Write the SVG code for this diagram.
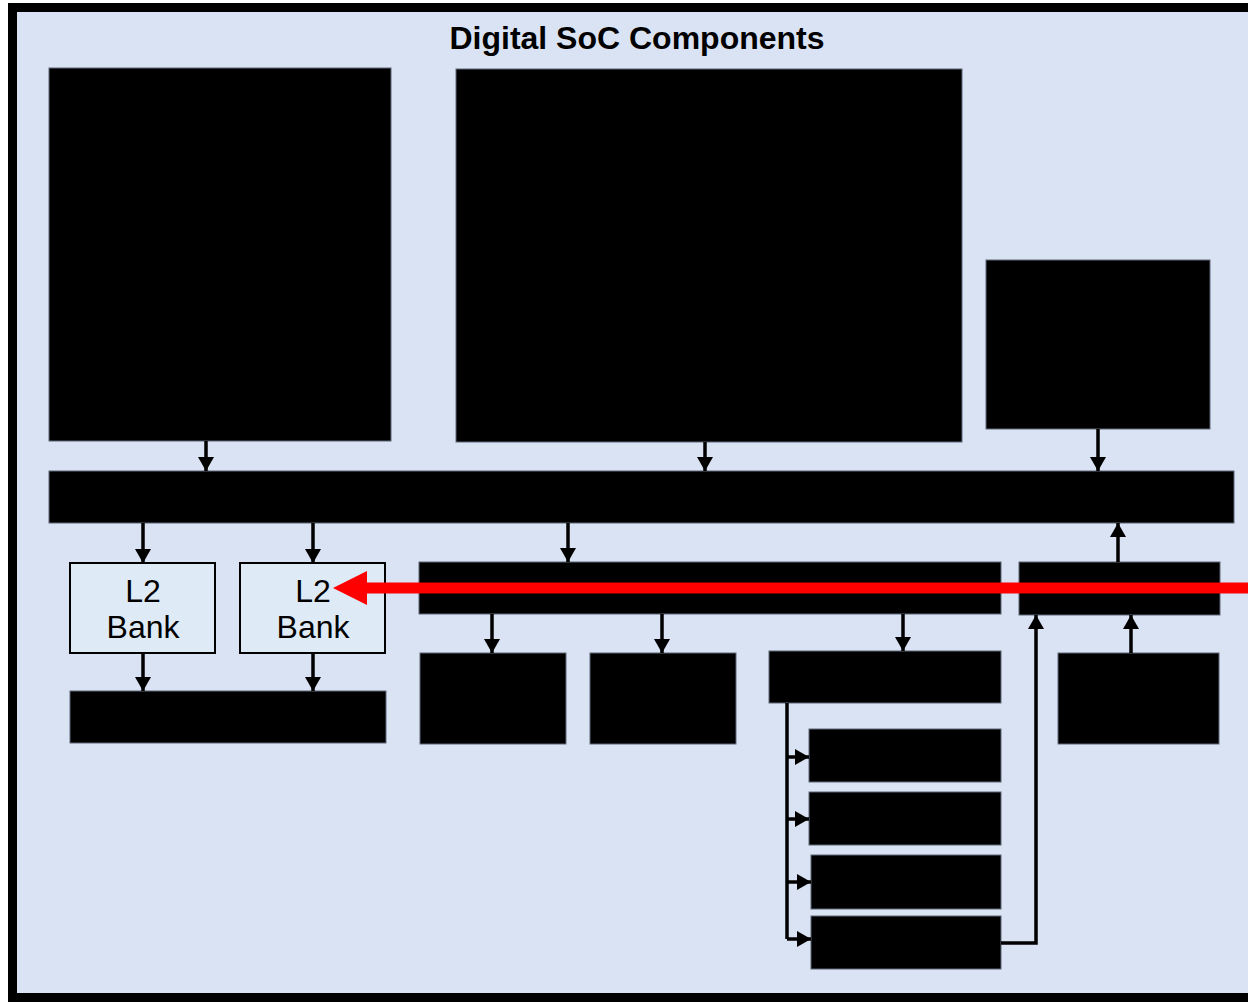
<svg xmlns="http://www.w3.org/2000/svg" width="1248" height="1002" viewBox="0 0 1248 1002">
<defs>
<style>
.blk{fill:#000;stroke:#5f6878;stroke-width:1}
.l2{fill:#DEEAF6;stroke:#000;stroke-width:2}
.con{fill:none;stroke:#000;stroke-width:3.5}
.t{font-family:"Liberation Sans",Arial,sans-serif;fill:#000}
</style>
<marker id="ah" markerUnits="userSpaceOnUse" markerWidth="16" markerHeight="16" viewBox="0 0 14 16" refX="14" refY="8" orient="auto">
<path d="M0,0 L14,8 L0,16 z" fill="#000"/>
</marker>
</defs>
<rect x="12.5" y="7.5" width="1250" height="990" fill="#DAE3F3" stroke="#000" stroke-width="9"/>
<text class="t" x="637" y="49" font-size="32" font-weight="bold" text-anchor="middle">Digital SoC Components</text>
<g id="blockA"><rect class="blk" x="49" y="68" width="342" height="373"/></g>
<g id="blockB"><rect class="blk" x="456" y="69" width="506" height="373"/></g>
<g id="blockC"><rect class="blk" x="986" y="260" width="224" height="169"/></g>
<g id="bus"><rect class="blk" x="49" y="471" width="1185" height="52"/></g>
<g id="l2bank1"><rect class="l2" x="70" y="563" width="145" height="90"/>
<text class="t" x="143" y="602" font-size="32" text-anchor="middle">L2</text>
<text class="t" x="143" y="638" font-size="32" text-anchor="middle">Bank</text></g>
<g id="l2bank2"><rect class="l2" x="240" y="563" width="145" height="90"/>
<text class="t" x="313" y="602" font-size="32" text-anchor="middle">L2</text>
<text class="t" x="313" y="638" font-size="32" text-anchor="middle">Bank</text></g>
<g id="memctrl"><rect class="blk" x="70" y="691" width="316" height="52"/></g>
<g id="midbar"><rect class="blk" x="419" y="562" width="582" height="52"/></g>
<g id="rightbar"><rect class="blk" x="1019" y="562" width="201" height="53"/></g>
<g id="box1"><rect class="blk" x="420" y="653" width="146" height="91"/></g>
<g id="box2"><rect class="blk" x="590" y="653" width="146" height="91"/></g>
<g id="box3"><rect class="blk" x="769" y="651" width="232" height="52"/></g>
<g id="rightbox"><rect class="blk" x="1058" y="653" width="161" height="91"/></g>
<g id="stack1"><rect class="blk" x="809" y="729" width="192" height="53"/></g>
<g id="stack2"><rect class="blk" x="809" y="792" width="192" height="53"/></g>
<g id="stack3"><rect class="blk" x="811" y="855" width="190" height="54"/></g>
<g id="stack4"><rect class="blk" x="811" y="916" width="190" height="53"/></g>
<g id="connectors">
<path class="con" marker-end="url(#ah)" d="M206,441 V471"/>
<path class="con" marker-end="url(#ah)" d="M705,442 V471"/>
<path class="con" marker-end="url(#ah)" d="M1098,429 V471"/>
<path class="con" marker-end="url(#ah)" d="M143,523 V563"/>
<path class="con" marker-end="url(#ah)" d="M313,523 V563"/>
<path class="con" marker-end="url(#ah)" d="M568,523 V562"/>
<path class="con" marker-end="url(#ah)" d="M1118,562 V523"/>
<path class="con" marker-end="url(#ah)" d="M1131,653 V615"/>
<path class="con" marker-end="url(#ah)" d="M143,653 V691"/>
<path class="con" marker-end="url(#ah)" d="M313,653 V691"/>
<path class="con" marker-end="url(#ah)" d="M492,614 V653"/>
<path class="con" marker-end="url(#ah)" d="M662,614 V653"/>
<path class="con" marker-end="url(#ah)" d="M903,614 V651"/>
<path class="con" d="M787,703 V939"/>
<path class="con" marker-end="url(#ah)" d="M787,757 H809"/>
<path class="con" marker-end="url(#ah)" d="M787,819 H809"/>
<path class="con" marker-end="url(#ah)" d="M787,882 H811"/>
<path class="con" marker-end="url(#ah)" d="M787,939 H811"/>
<path class="con" marker-end="url(#ah)" d="M1001,943 H1036 V615"/>
<path d="M1250,588 H364" fill="none" stroke="#FF0000" stroke-width="11"/>
<polygon points="333,588 367,571 367,605" fill="#FF0000"/>
</g>
</svg>
